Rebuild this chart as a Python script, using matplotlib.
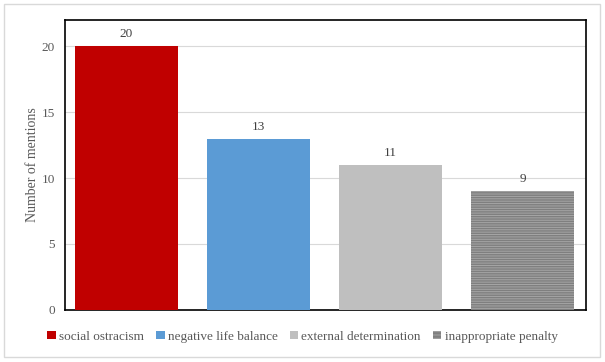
import matplotlib.pyplot as plt
from matplotlib.patches import Rectangle

categories = ["social ostracism", "negative life balance",
              "external determination", "inappropriate penalty"]
mentions = [20, 13, 11, 9]
colors = ["#c00000", "#5b9bd5", "#bfbfbf", "#7f7f7f"]

plt.rcParams['font.family'] = ['Liberation Serif', 'DejaVu Serif']
plt.rcParams['hatch.linewidth'] = 0.7

fig = plt.figure(figsize=(6.05, 3.62), dpi=100)
ax = fig.add_axes([0.107, 0.144, 0.862, 0.801])

x = range(len(categories))
bars = ax.bar(x, mentions, width=0.78, color=colors, zorder=3)
bars[3].set_hatch('-------')
bars[3].set_edgecolor('#a6a6a6')
bars[3].set_linewidth(0)

for xi, v in zip(x, mentions):
    ax.text(xi, v + 0.45, str(v), ha='center', va='bottom', fontsize=9.5, color='#404040')

ax.set_xlim(-0.466, 3.48)
ax.set_ylim(0, 22)
ax.set_yticks([0, 5, 10, 15, 20])
ax.set_xticks([])
ax.tick_params(axis='y', length=0, labelsize=9.5, labelcolor='#595959', pad=7)
ax.grid(axis='y', color='#d9d9d9', linewidth=0.8, zorder=0)
for s in ax.spines.values():
    s.set_color('#000000')
    s.set_linewidth(1.2)
ax.set_ylabel("Number of mentions", fontsize=10, color='#595959', labelpad=2)

handles = [Rectangle((0, 0), 1, 1, facecolor=c, edgecolor='none') for c in colors]
handles[3].set_edgecolor('#a6a6a6')
handles[3].set_linewidth(0)
handles[3].set_hatch('-----')
fig.legend(handles, categories, loc='center', bbox_to_anchor=(0.5, 0.07), ncol=4,
           frameon=False, fontsize=9.5, handlelength=0.65, handleheight=0.65,
           handletextpad=0.25, columnspacing=0.9, labelcolor='#595959')

fig.patches.append(Rectangle((0.007, 0.014), 0.985, 0.974, transform=fig.transFigure,
                             fill=False, edgecolor='#d9d9d9', linewidth=1))

fig.savefig("out.png", dpi=100)
